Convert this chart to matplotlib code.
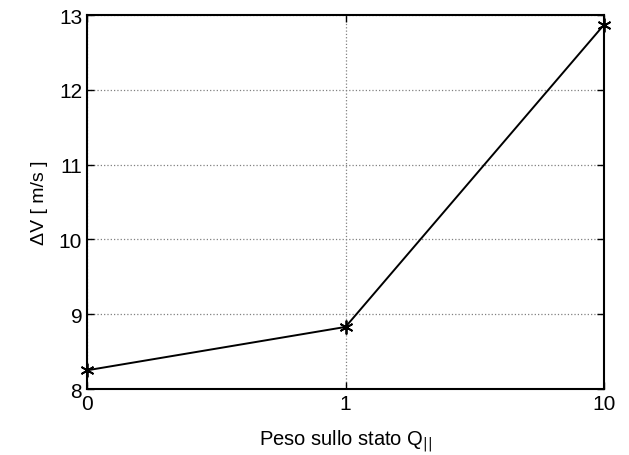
import matplotlib
matplotlib.use('Agg')
import matplotlib.pyplot as plt

plt.rcParams['font.family'] = ['Liberation Sans', 'DejaVu Sans']

# weights on the state and the resulting delta-v
weight_labels = ['0', '1', '10']
delta_v = [8.25, 8.83, 12.87]
y_ticks = [8, 9, 10, 11, 12, 13]

fig = plt.figure(figsize=(6.29, 4.56), dpi=100)
ax = fig.add_axes([0.1383, 0.1447, 0.822, 0.8202])

x = list(range(len(weight_labels)))
ax.plot(x, delta_v, color='black', linewidth=1.4, clip_on=False,
        marker=(6, 2, 0), markersize=10, markeredgewidth=1.3, zorder=5)

ax.set_xlim(0, len(x) - 1)
ax.set_ylim(8, 13)
ax.set_xticks(x)
ax.set_xticklabels(weight_labels)
ax.set_yticks(y_ticks)

ax.grid(True, color='#808080', linestyle=':', linewidth=0.9)
ax.tick_params(direction='in', top=True, right=True, length=5,
               labelsize=15, width=1.0)
for s in ax.spines.values():
    s.set_linewidth(1.5)

ax.set_xlabel(r'Peso sullo stato Q$_{||}$', fontsize=14.5, labelpad=10)
ax.set_ylabel(r'ΔV [ m/s ]', fontsize=14, labelpad=8)

fig.savefig('out.png', dpi=100)
